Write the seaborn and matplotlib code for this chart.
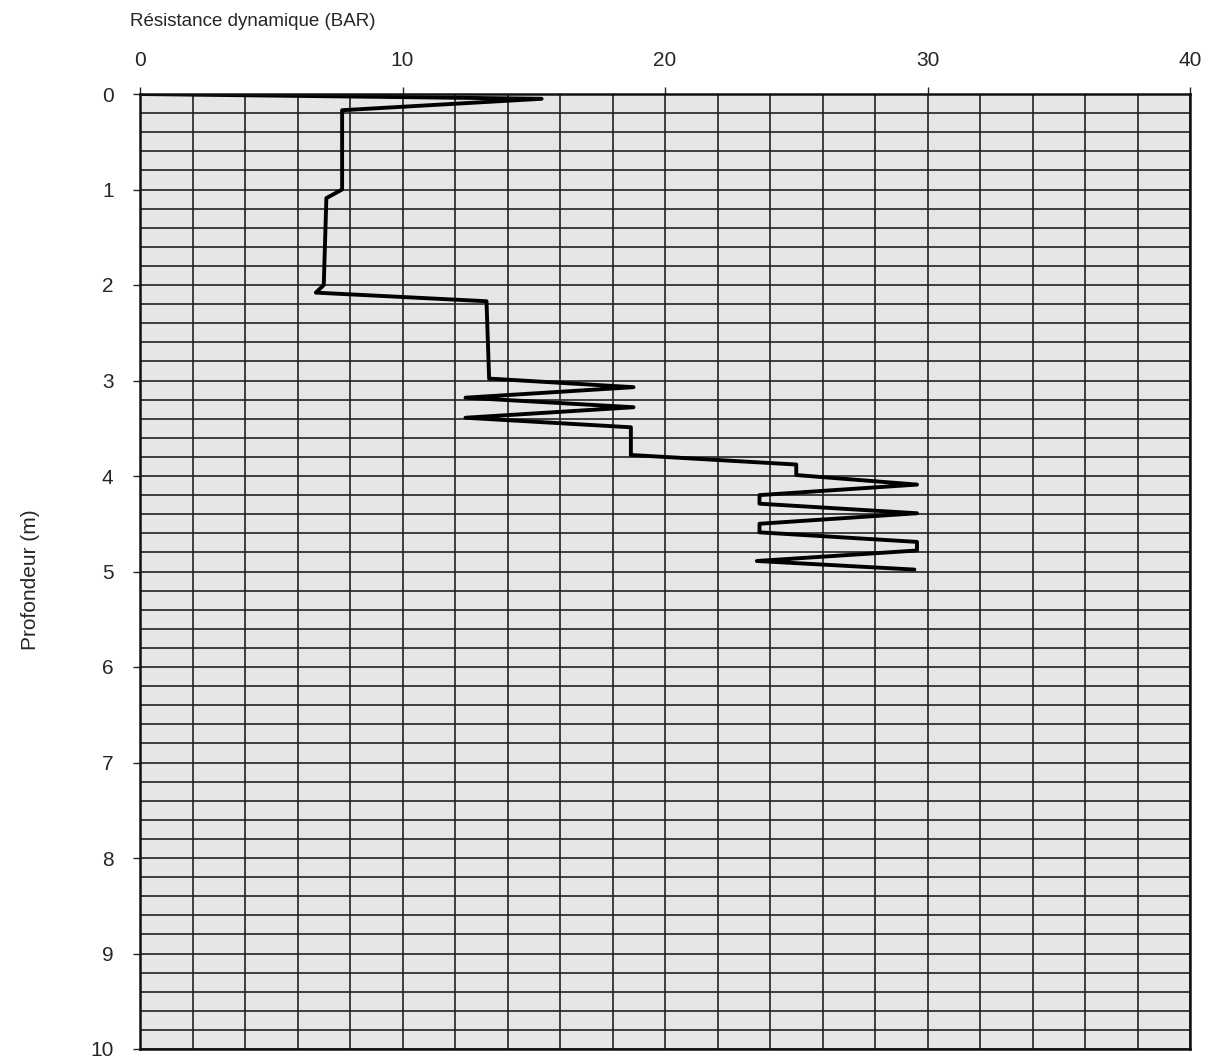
import matplotlib
matplotlib.use('Agg')
import matplotlib.pyplot as plt
from matplotlib.ticker import MultipleLocator
import seaborn as sns
import pandas as pd

# Penetration test profile
resistance = [0.0, 15.3, 7.7, 7.7, 7.1, 7.0, 6.7, 13.2, 13.3, 18.8, 12.4, 18.8, 12.4,
              18.7, 18.7, 25.0, 25.0, 29.6, 23.6, 23.6, 29.6, 23.6, 23.6, 29.6, 29.6,
              23.5, 29.5]
depth = [0.0, 0.05, 0.17, 1.0, 1.09, 2.0, 2.08, 2.17, 2.98, 3.07, 3.18, 3.28, 3.39,
         3.49, 3.78, 3.88, 3.99, 4.09, 4.2, 4.29, 4.39, 4.5, 4.59, 4.69, 4.78,
         4.89, 4.98]

x_ticks = [0, 10, 20, 30, 40]
y_ticks = list(range(0, 11))

df = pd.DataFrame({'Resistance': resistance, 'Depth': depth})

sns.set_style('ticks', {'axes.facecolor': '#e6e6e6', 'axes.edgecolor': '#111111',
                        'grid.color': '#222222'})
plt.rcParams['font.family'] = ['Liberation Sans', 'DejaVu Sans']

fig = plt.figure(figsize=(12.19, 10.60), dpi=100)
ax = fig.add_axes([140 / 1219, 1 - 1049 / 1060, (1190 - 140) / 1219, (1049 - 94) / 1060])

sns.lineplot(data=df, x='Resistance', y='Depth', sort=False, estimator=None,
             color='black', linewidth=2.8, ax=ax)

ax.set_xlim(0, 40)
ax.set_ylim(10, 0)
ax.set_xticks(x_ticks)
ax.set_yticks(y_ticks)
ax.xaxis.set_minor_locator(MultipleLocator(2))
ax.yaxis.set_minor_locator(MultipleLocator(0.2))
ax.grid(True, which='both', color='#222222', linewidth=1.2)
ax.set_axisbelow(True)

ax.xaxis.tick_top()
ax.tick_params(axis='x', which='major', top=True, bottom=False, labeltop=True,
               labelbottom=False, length=5, width=1, pad=12, labelsize=15)
ax.tick_params(axis='y', which='major', left=True, length=5, width=1, pad=14,
               labelsize=15)
ax.tick_params(which='minor', length=0)

for side in ['left', 'top', 'right', 'bottom']:
    ax.spines[side].set_visible(True)
    ax.spines[side].set_linewidth(1.8)

ax.set_xlabel('')
ax.set_ylabel('')
fig.text(130 / 1219, 1 - 22 / 1060, 'Résistance dynamique (BAR)', ha='left',
         va='center', fontsize=13.5)
fig.text(30 / 1219, 1 - 580 / 1060, 'Profondeur (m)', rotation=90, ha='center',
         va='center', fontsize=15)

fig.savefig('out.png', dpi=100, facecolor='white')
